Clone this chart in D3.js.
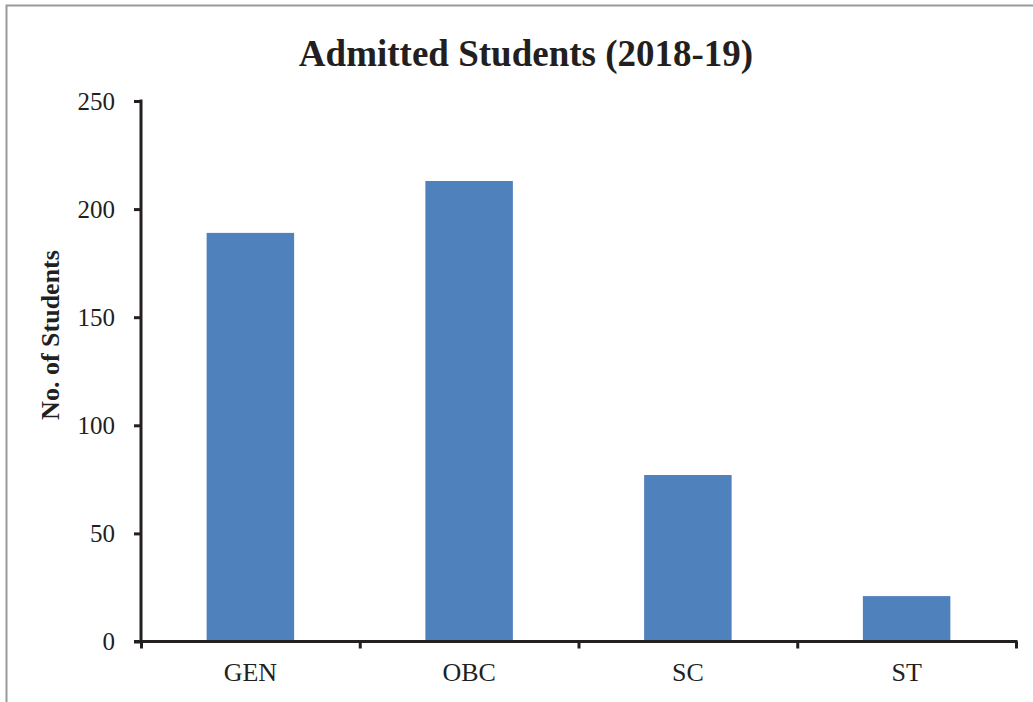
<!DOCTYPE html>
<html>
<head>
<meta charset="utf-8">
<script src="https://cdn.jsdelivr.net/npm/d3@7"></script>
<style>
  html, body { margin: 0; padding: 0; background: #fff; }
  svg { display: block; }
  text { font-family: "Liberation Serif", "Times New Roman", serif; fill: #231f20; }
</style>
</head>
<body>
<svg id="chart" width="1033" height="702"></svg>
<script>
const categories = ["GEN", "OBC", "SC", "ST"];
const students = [189, 213, 77, 21];
const yTicks = [0, 50, 100, 150, 200, 250];
const titleText = "Admitted Students (2018-19)";
const yTitle = "No. of Students";

const svg = d3.select("#chart");
const plotLeft = 141, plotRight = 1016, plotTop = 101, plotBottom = 641.5;
const axisColor = "#231f20";

// outer border
svg.append("rect")
  .attr("x", 6.5).attr("y", 5.5)
  .attr("width", 1040).attr("height", 720)
  .attr("fill", "#fff").attr("stroke", "#9a9a9a").attr("stroke-width", 2);

const x = d3.scaleBand().domain(categories).range([plotLeft, plotRight]).paddingInner(0.6).paddingOuter(0.3);
const y = d3.scaleLinear().domain([0, 250]).range([plotBottom, plotTop]);

// bars
svg.append("g").selectAll("rect").data(categories).join("rect")
  .attr("x", d => x(d))
  .attr("width", x.bandwidth())
  .attr("y", (d, i) => y(students[i]))
  .attr("height", (d, i) => y(0) - y(students[i]))
  .attr("fill", "#4f81bd");

// y axis
const yAxis = svg.append("g").attr("transform", `translate(${plotLeft},0)`)
  .call(d3.axisLeft(y).tickValues(yTicks).tickSize(7).tickPadding(19).tickFormat(d3.format("d")));
yAxis.select(".domain").attr("d", `M0,${plotTop - 1.5}V${plotBottom}`).attr("stroke", axisColor).attr("stroke-width", 3);
yAxis.selectAll(".tick line").attr("stroke", axisColor).attr("stroke-width", 3);
yAxis.selectAll(".tick text").attr("font-size", 25).attr("fill", axisColor)
  .style("font-family", '"Liberation Serif", "Times New Roman", serif');

// x axis boundary ticks
const xb = d3.scaleLinear().domain([0, categories.length]).range([plotLeft, plotRight]);
const xAxisT = svg.append("g").attr("transform", `translate(0,${plotBottom})`)
  .call(d3.axisBottom(xb).ticks(categories.length).tickSize(7).tickFormat(""));
xAxisT.select(".domain").attr("d", `M${plotLeft - 7},0H${plotRight + 1.5}`).attr("stroke", axisColor).attr("stroke-width", 3);
xAxisT.selectAll(".tick line").attr("stroke", axisColor).attr("stroke-width", 3);

// x labels
const xAxisL = svg.append("g").attr("transform", `translate(0,${plotBottom})`)
  .call(d3.axisBottom(x).tickSize(0).tickPadding(21));
xAxisL.select(".domain").remove();
xAxisL.selectAll(".tick text").attr("font-size", 26).attr("fill", axisColor)
  .style("font-family", '"Liberation Serif", "Times New Roman", serif');

// title
svg.append("text")
  .attr("x", 526).attr("y", 66)
  .attr("text-anchor", "middle")
  .attr("font-size", 37).attr("font-weight", "bold")
  .text(titleText);

// y title
svg.append("text")
  .attr("transform", "translate(59,335) rotate(-90)")
  .attr("text-anchor", "middle")
  .attr("font-size", 26).attr("font-weight", "bold")
  .text(yTitle);
</script>
</body>
</html>
